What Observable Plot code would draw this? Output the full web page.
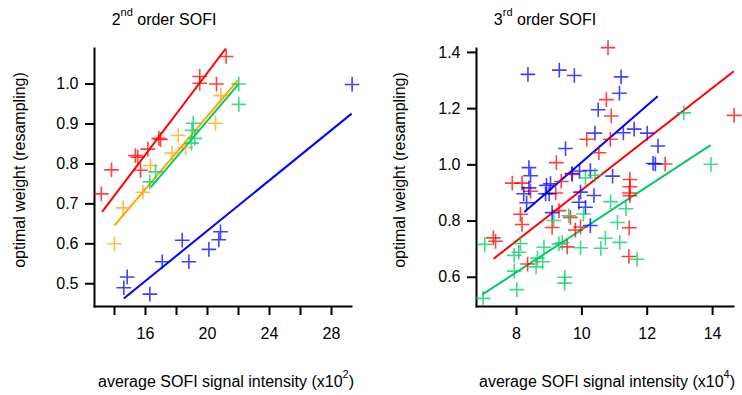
<!DOCTYPE html>
<html>
<head>
<meta charset="utf-8">
<script src="https://cdn.jsdelivr.net/npm/d3@7"></script>
<script src="https://cdn.jsdelivr.net/npm/@observablehq/plot@0.6"></script>
<style>
  body { margin: 0; background: #fff; }
  #wrap { position: relative; width: 742px; height: 395px; font-family: "Liberation Sans", Arial, sans-serif; color: #000; }
  .panel { position: absolute; top: 0; }
  .txt { position: absolute; white-space: nowrap; font-size: 16px; line-height: 1; }
  .title { top: 12px; transform: translateX(-50%); }
  .xlab { top: 374px; transform: translateX(-50%); }
  .ylab { top: 170px; transform: translate(-50%, -50%) rotate(-90deg); }
  sup { font-size: 11px; vertical-align: 0; position: relative; top: -9px; }
</style>
</head>
<body>
<div id="wrap"></div>
<script>
// ---------- 2nd order SOFI (x in units of 10^2) ----------
const o2RedX    = [13.15, 13.81, 15.35, 15.5, 15.68, 16.15, 16.86, 16.97, 19.5, 19.5, 20.58, 21.2];
const o2RedY    = [0.725, 0.785, 0.821, 0.817, 0.784, 0.837, 0.864, 0.861, 1.019, 1.002, 1.0, 1.069];
const o2OrangeX = [14.0, 14.56, 15.83, 16.32, 17.72, 18.11, 18.58, 20.52, 20.86];
const o2OrangeY = [0.60, 0.69, 0.729, 0.796, 0.827, 0.871, 0.841, 0.902, 0.971];
const o2GreenX  = [16.28, 16.65, 18.97, 19.0, 19.08, 19.18, 22.02, 22.02];
const o2GreenY  = [0.755, 0.78, 0.852, 0.884, 0.902, 0.864, 1.0, 0.949];
const o2BlueX   = [14.6, 14.82, 16.28, 17.08, 18.37, 18.8, 20.09, 20.73, 20.84, 29.33];
const o2BlueY   = [0.49, 0.517, 0.474, 0.555, 0.609, 0.555, 0.586, 0.61, 0.63, 0.999];
// fitted lines (start/end)
const o2FitSeries = ["S1", "S2", "S3", "S4"];
const o2FitX1 = [13.2, 14.0, 16.35, 14.6];
const o2FitY1 = [0.68, 0.646, 0.742, 0.463];
const o2FitX2 = [21.18, 21.96, 22.0, 29.3];
const o2FitY2 = [1.089, 1.009, 1.0, 0.926];
const o2XTicks = [14, 16, 18, 20, 22, 24, 26, 28];
const o2XLabels = [16, 20, 24, 28];
const o2YTicks = [0.5, 0.6, 0.7, 0.8, 0.9, 1.0];

// ---------- 3rd order SOFI (x in units of 10^4) ----------
const o3RedX = [10.8, 10.75, 10.9, 14.66, 10.15, 10.87, 10.52, 9.22, 9.37, 9.7, 12.55, 7.87, 8.17, 8.43, 9.2,
                11.47, 11.47, 11.45, 11.47, 8.12, 8.17, 9.09, 9.3, 9.65, 9.8, 9.96, 7.29, 7.36, 8.34, 9.55, 11.45, 11.44];
const o3RedY = [1.417, 1.232, 1.174, 1.176, 1.091, 1.091, 1.043, 1.008, 0.941, 0.966, 1.003, 0.935, 0.935, 0.906, 0.9,
                0.948, 0.922, 0.9, 0.89, 0.824, 0.788, 0.777, 0.837, 0.813, 0.768, 0.779, 0.74, 0.728, 0.647, 0.708, 0.776, 0.674];
const o3BlueX = [8.35, 9.31, 9.77, 11.2, 11.15, 10.5, 10.4, 9.5, 11.27, 11.6, 12.0, 12.33, 12.18, 12.25, 8.38, 8.43, 8.38,
                 8.22, 8.31, 8.92, 9.04, 9.0, 8.89, 9.09, 9.7, 9.93, 10.26, 9.96, 10.37, 9.91, 10.11, 10.26, 10.94];
const o3BlueY = [1.322, 1.337, 1.318, 1.313, 1.255, 1.196, 1.113, 1.058, 1.114, 1.127, 1.113, 1.067, 1.005, 1.003, 0.99, 0.961, 0.918,
                 0.897, 0.865, 0.927, 0.933, 0.897, 0.897, 0.83, 0.969, 0.978, 0.98, 0.903, 0.891, 0.867, 0.849, 0.784, 0.96];
const o3GreenX = [13.12, 13.95, 10.11, 10.4, 10.88, 11.35, 10.05, 9.6, 9.14, 11.09, 11.16, 10.72, 9.3, 9.4, 9.96, 10.58,
                  8.84, 8.12, 7.03, 6.98, 8.01, 7.93, 7.93, 8.07, 8.6, 8.64, 8.8, 9.48, 9.47, 11.69];
const o3GreenY = [1.185, 1.002, 0.953, 0.963, 0.869, 0.844, 0.825, 0.819, 0.802, 0.795, 0.724, 0.739, 0.719, 0.723, 0.705, 0.703,
                  0.707, 0.72, 0.717, 0.525, 0.556, 0.622, 0.678, 0.689, 0.637, 0.668, 0.655, 0.6, 0.579, 0.664];
const o3FitSeries = ["S4", "S1", "S3"];
const o3FitX1 = [8.24, 7.3, 6.95];
const o3FitY1 = [0.832, 0.666, 0.538];
const o3FitX2 = [12.32, 14.65, 13.94];
const o3FitY2 = [1.244, 1.333, 1.07];
const o3XTicks = [8, 10, 12, 14];
const o3YTicks = [0.6, 0.8, 1.0, 1.2, 1.4];

// series S1..S4 drawn red, orange, green, blue
const seriesNames = ["S1", "S2", "S3", "S4"];
const seriesColors = ["#ff0000", "#ffa500", "#00cc66", "#0000ff"];

function pts(series, xs, ys) { return xs.map((x, i) => ({series, x, y: ys[i]})); }
function fits(names, x1, y1, x2, y2) { return names.map((s, i) => ({series: s, x1: x1[i], y1: y1[i], x2: x2[i], y2: y2[i]})); }

function makePanel({points, lines, xDomain, yDomain, xTicks, xFmt, yTicks, marginLeft, marginRight}) {
  return Plot.plot({
    width: 371, height: 395,
    marginLeft, marginRight, marginTop: 48, marginBottom: 89,
    style: {fontFamily: '"Liberation Sans", Arial, sans-serif', fontSize: "16px", color: "#000", background: "transparent"},
    x: {domain: xDomain},
    y: {domain: yDomain},
    color: {type: "ordinal", domain: seriesNames, range: seriesColors},
    marks: [
      Plot.axisX({ticks: xTicks, tickFormat: xFmt, tickSize: 9, tickPadding: 12, strokeWidth: 2, label: null}),
      Plot.axisY({ticks: yTicks, tickFormat: ".1f", tickSize: 9, tickPadding: 7, strokeWidth: 2, label: null}),
      Plot.frame({anchor: "left", strokeWidth: 2}),
      Plot.frame({anchor: "bottom", strokeWidth: 2}),
      Plot.link(lines, {x1: "x1", y1: "y1", x2: "x2", y2: "y2", stroke: "series", strokeWidth: 2}),
      Plot.dot(points, {x: "x", y: "y", stroke: "series", symbol: "plus", r: 4.8, strokeWidth: 1.6, strokeOpacity: 0.75})
    ]
  });
}

const leftSvg = makePanel({
  points: [...pts("S1", o2RedX, o2RedY), ...pts("S2", o2OrangeX, o2OrangeY), ...pts("S3", o2GreenX, o2GreenY), ...pts("S4", o2BlueX, o2BlueY)],
  lines: fits(o2FitSeries, o2FitX1, o2FitY1, o2FitX2, o2FitY2),
  xDomain: [12.71, 29.29], yDomain: [0.443, 1.089],
  xTicks: o2XTicks, xFmt: d => o2XLabels.includes(d) ? String(d) : "",
  yTicks: o2YTicks, marginLeft: 94, marginRight: 20
});
const rightSvg = makePanel({
  points: [...pts("S1", o3RedX, o3RedY), ...pts("S4", o3BlueX, o3BlueY), ...pts("S3", o3GreenX, o3GreenY)],
  lines: fits(o3FitSeries, o3FitX1, o3FitY1, o3FitX2, o3FitY2),
  xDomain: [6.776, 14.64], yDomain: [0.496, 1.414],
  xTicks: o3XTicks, xFmt: d => String(d),
  yTicks: o3YTicks, marginLeft: 105, marginRight: 9
});

const wrap = document.getElementById("wrap");
leftSvg.classList.add("panel"); leftSvg.style.left = "0px";
rightSvg.classList.add("panel"); rightSvg.style.left = "371px";
wrap.appendChild(leftSvg);
wrap.appendChild(rightSvg);

function addText(cls, html, x, y) {
  const d = document.createElement("div");
  d.className = "txt " + cls;
  d.innerHTML = html;
  d.style.left = x + "px";
  if (y != null) d.style.top = y + "px";
  wrap.appendChild(d);
}
addText("title", "2<sup>nd</sup> order SOFI", 164);
addText("title", "3<sup>rd</sup> order SOFI", 545);
addText("ylab", "optimal weight (resampling)", 20);
addText("ylab", "optimal weight (resampling)", 400);
addText("xlab", "average SOFI signal intensity (x10<sup>2</sup>)", 226);
addText("xlab", "average SOFI signal intensity (x10<sup>4</sup>)", 607);
</script>
</body>
</html>
